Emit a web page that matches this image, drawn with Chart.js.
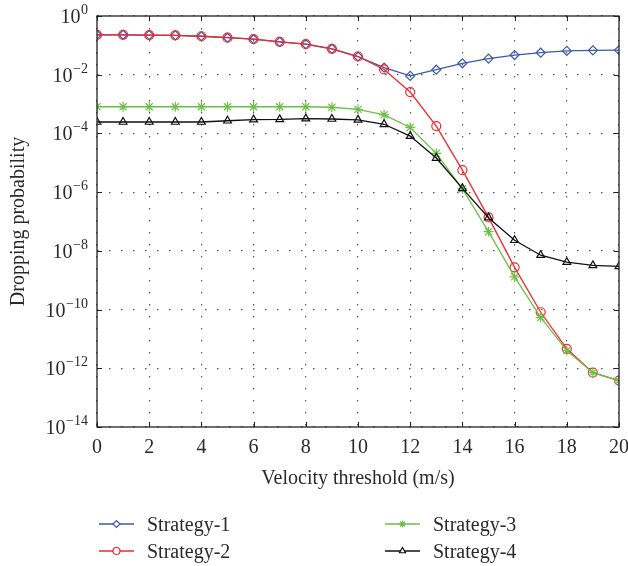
<!DOCTYPE html>
<html>
<head>
<meta charset="utf-8">
<script src="https://cdn.jsdelivr.net/npm/chart.js@4/dist/chart.umd.min.js"></script>
<style>
  body { margin: 0; background: #fff; }
  canvas { display: block; }
</style>
</head>
<body>
<canvas id="chart" width="628" height="566"></canvas>
<script>
const velocity = [0,1,2,3,4,5,6,7,8,9,10,11,12,13,14,15,16,17,18,19,20];

const strategy1 = [0.229,0.229,0.224,0.219,0.204,0.182,0.162,0.132,0.110,0.0759,0.0417,
                   0.0174,0.0091,0.0148,0.0245,0.0355,0.0468,0.0562,0.0646,0.0676,0.0692];
const strategy2 = [0.229,0.229,0.224,0.219,0.204,0.182,0.162,0.132,0.110,0.0759,0.0417,
                   0.0151,2.57e-3,1.78e-4,5.6e-6,1.38e-7,2.75e-9,8.1e-11,4.6e-12,7.1e-13,3.8e-13];
const strategy3 = [8.1e-4,8.1e-4,8.1e-4,8.1e-4,8.1e-4,8.1e-4,8.1e-4,8.1e-4,8.1e-4,7.8e-4,6.6e-4,
                   4.3e-4,1.6e-4,2.1e-5,1.3e-6,4.5e-8,1.3e-9,5.4e-11,4.0e-12,7.1e-13,3.8e-13];
const strategy4 = [2.45e-4,2.45e-4,2.45e-4,2.45e-4,2.45e-4,2.7e-4,2.95e-4,3.0e-4,3.2e-4,3.1e-4,2.9e-4,
                   2.05e-4,8.1e-5,1.45e-5,1.35e-6,1.35e-7,2.3e-8,7.1e-9,4.1e-9,3.2e-9,2.95e-9];

const xTicks = [0,2,4,6,8,10,12,14,16,18,20];
const yExponents = [0,-2,-4,-6,-8,-10,-12,-14];

const seriesNames = ['Strategy-1','Strategy-2','Strategy-3','Strategy-4'];
const seriesColors = ['#3b5aa8','#ee2a2e','#6cbf47','#111111'];
const seriesMarkers = ['rectRot','circle','star','triangle'];

const FONT = '"Liberation Serif", "DejaVu Serif", serif';

function makeSet(i, values, order) {
  return {
    label: seriesNames[i],
    data: values.map((v, k) => ({x: velocity[k], y: v})),
    borderColor: seriesColors[i],
    backgroundColor: 'rgba(0,0,0,0)',
    pointBorderColor: seriesColors[i],
    pointBackgroundColor: 'rgba(0,0,0,0)',
    pointStyle: seriesMarkers[i],
    pointRadius: i === 2 ? 5 : 4.5,
    pointBorderWidth: 1.2,
    borderWidth: 1.3,
    tension: 0,
    order: order
  };
}

// box, inward ticks, superscript labels, titles and legend
const decorations = {
  id: 'decorations',
  afterDraw(chart) {
    const ctx = chart.ctx;
    const a = chart.chartArea;
    const xs = chart.scales.x, ys = chart.scales.y;
    ctx.save();
    ctx.strokeStyle = '#222';
    ctx.lineWidth = 1.3;
    ctx.strokeRect(a.left, a.top, a.right - a.left, a.bottom - a.top);

    ctx.lineWidth = 1;
    ctx.beginPath();
    xTicks.forEach(t => {
      const px = Math.round(xs.getPixelForValue(t)) + 0.5;
      ctx.moveTo(px, a.bottom); ctx.lineTo(px, a.bottom - 5);
      ctx.moveTo(px, a.top); ctx.lineTo(px, a.top + 5);
    });
    yExponents.forEach(e => {
      const py = Math.round(ys.getPixelForValue(Math.pow(10, e))) + 0.5;
      ctx.moveTo(a.left, py); ctx.lineTo(a.left + 5, py);
      ctx.moveTo(a.right, py); ctx.lineTo(a.right - 5, py);
    });
    ctx.stroke();

    ctx.fillStyle = '#2a2a2a';
    ctx.textBaseline = 'alphabetic';
    // x tick labels
    ctx.font = '20px ' + FONT;
    ctx.textAlign = 'center';
    xTicks.forEach(t => ctx.fillText(String(t), xs.getPixelForValue(t), a.bottom + 26));

    // y tick labels 10^e
    yExponents.forEach(e => {
      const py = ys.getPixelForValue(Math.pow(10, e));
      const expText = e === 0 ? '0' : '\u2212' + Math.abs(e);
      ctx.font = '14px ' + FONT;
      const ew = ctx.measureText(expText).width;
      const right = a.left - 9;
      ctx.textAlign = 'right';
      ctx.fillText(expText, right, py - 2);
      ctx.font = '20px ' + FONT;
      ctx.fillText('10', right - ew - 0.5, py + 7);
    });

    // axis titles
    ctx.font = '20px ' + FONT;
    ctx.textAlign = 'center';
    ctx.fillText('Velocity threshold (m/s)', (a.left + a.right) / 2, a.bottom + 57);
    ctx.save();
    ctx.translate(24, (a.top + a.bottom) / 2);
    ctx.rotate(-Math.PI / 2);
    ctx.fillText('Dropping probability', 0, 0);
    ctx.restore();

    // legend in two columns
    const cols = [{x: 99, items: [0, 1]}, {x: 385, items: [2, 3]}];
    const rows = [524, 551];
    cols.forEach(col => {
      col.items.forEach((idx, r) => {
        const y = rows[r];
        ctx.strokeStyle = seriesColors[idx];
        ctx.lineWidth = 1.3;
        ctx.beginPath();
        ctx.moveTo(col.x, y); ctx.lineTo(col.x + 35, y);
        ctx.stroke();
        ctx.fillStyle = '#ffffff';
        ctx.lineWidth = 1.2;
        Chart.helpers.drawPoint(ctx, {pointStyle: seriesMarkers[idx], radius: 3.5, borderWidth: 1.2, rotation: 0}, col.x + 17.5, y);
        ctx.fillStyle = '#2a2a2a';
        ctx.textAlign = 'left';
        ctx.font = '20px ' + FONT;
        ctx.fillText(seriesNames[idx], col.x + 48, y + 7);
      });
    });
    ctx.restore();
  }
};

new Chart(document.getElementById('chart'), {
  type: 'line',
  data: {
    datasets: [
      makeSet(0, strategy1, 3),
      makeSet(1, strategy2, 2),
      makeSet(2, strategy3, 1),
      makeSet(3, strategy4, 0)
    ]
  },
  options: {
    responsive: false,
    animation: false,
    layout: { padding: { left: 97, top: 16, right: 9, bottom: 139 } },
    plugins: { legend: { display: false }, tooltip: { enabled: false } },
    scales: {
      x: {
        type: 'linear', min: 0, max: 20,
        afterBuildTicks: s => { s.ticks = xTicks.map(v => ({value: v})); },
        ticks: { display: false },
        grid: { color: '#555', lineWidth: 1.2, drawTicks: false },
        border: { display: false, dash: [1.5, 10.5] }
      },
      y: {
        type: 'logarithmic', min: 1e-14, max: 1,
        afterBuildTicks: s => { s.ticks = yExponents.map(e => ({value: Math.pow(10, e)})); },
        ticks: { display: false },
        grid: { color: '#555', lineWidth: 1.2, drawTicks: false },
        border: { display: false, dash: [1.5, 10.5] }
      }
    }
  },
  plugins: [decorations]
});
</script>
</body>
</html>
